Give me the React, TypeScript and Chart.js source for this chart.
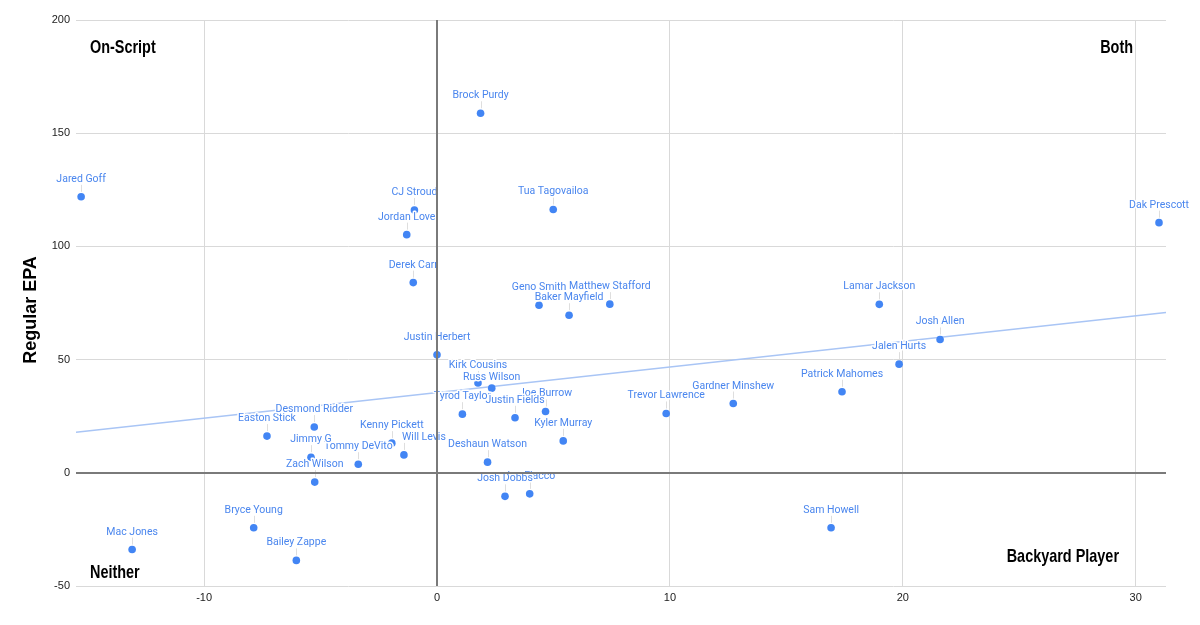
import React, { useEffect, useRef } from 'react';
import { Chart, registerables } from 'chart.js';

Chart.register(...registerables);

// ---- Data ----
const players = [
  'Jared Goff', 'CJ Stroud', 'Jordan Love', 'Derek Carr', 'Brock Purdy',
  'Tua Tagovailoa', 'Dak Prescott', 'Geno Smith', 'Matthew Stafford', 'Baker Mayfield',
  'Lamar Jackson', 'Josh Allen', 'Jalen Hurts', 'Patrick Mahomes', 'Gardner Minshew',
  'Trevor Lawrence', 'Sam Howell', 'Justin Herbert', 'Kirk Cousins', 'Russ Wilson',
  'Tyrod Taylor', 'Joe Burrow', 'Justin Fields', 'Kyler Murray', 'Deshaun Watson',
  'Joe Flacco', 'Josh Dobbs', 'Easton Stick', 'Desmond Ridder', 'Tommy DeVito',
  'Jimmy G', 'Zach Wilson', 'Kenny Pickett', 'Will Levis', 'Bryce Young',
  'Bailey Zappe', 'Mac Jones',
];

const backyardEpa = [
  -15.28, -0.97, -1.30, -1.02, 1.87,
  4.99, 31.0, 4.38, 7.42, 5.67,
  18.99, 21.6, 19.84, 17.39, 12.72,
  9.84, 16.92, 0.0, 1.76, 2.35,
  1.09, 4.66, 3.35, 5.42, 2.17,
  3.98, 2.92, -7.30, -5.27, -3.38,
  -5.41, -5.25, -1.94, -1.42, -7.87,
  -6.04, -13.09,
];

const regularEpa = [
  121.9, 116.1, 105.2, 84.0, 158.8,
  116.3, 110.5, 74.0, 74.5, 69.6,
  74.4, 58.9, 48.0, 35.8, 30.6,
  26.2, -24.3, 52.1, 39.7, 37.4,
  25.9, 27.1, 24.3, 14.1, 4.7,
  -9.3, -10.4, 16.2, 20.2, 3.8,
  6.9, -4.1, 13.1, 7.9, -24.3,
  -38.7, -33.9,
];

const xAxisMin = -15.5;
const xAxisMax = 31.3;
const xAxisStep = 10;
const yAxisMin = -50;
const yAxisMax = 200;
const yAxisStep = 50;

const yAxisTitle = 'Regular EPA';
const quadrantTopLeft = 'On-Script';
const quadrantTopRight = 'Both';
const quadrantBottomLeft = 'Neither';
const quadrantBottomRight = 'Backyard Player';

// label nudges to mimic collision avoidance (style only)
const labelNudges: Record<string, [number, number]> = {
  'Will Levis': [20, 0],
  'Russ Wilson': [0, 7],
};

const BLUE = '#4285f4';
const LABEL_BLUE = '#4a86ee';
const ZERO_LINE = '#7a7a7a';

function linearFit(xs: number[], ys: number[]) {
  const n = xs.length;
  let sx = 0, sy = 0;
  for (let i = 0; i < n; i++) { sx += xs[i]; sy += ys[i]; }
  const mx = sx / n, my = sy / n;
  let sxy = 0, sxx = 0;
  for (let i = 0; i < n; i++) {
    sxy += (xs[i] - mx) * (ys[i] - my);
    sxx += (xs[i] - mx) * (xs[i] - mx);
  }
  const slope = sxy / sxx;
  return { slope, intercept: my - slope * mx };
}

const pointLabelPlugin = {
  id: 'pointLabels',
  afterDatasetsDraw(chart: any) {
    const ctx = chart.ctx as CanvasRenderingContext2D;
    const meta = chart.getDatasetMeta(0);
    ctx.save();
    ctx.font = '10.5px Roboto, Arial, sans-serif';
    ctx.textAlign = 'center';
    ctx.textBaseline = 'alphabetic';
    ctx.lineJoin = 'round';
    meta.data.forEach((pt: any, i: number) => {
      const name = players[i];
      const nudge = labelNudges[name] || [0, 0];
      const px = pt.x;
      const py = pt.y;
      const lx = Math.round(px) + 0.5;
      ctx.strokeStyle = '#dedede';
      ctx.lineWidth = 1;
      ctx.beginPath();
      ctx.moveTo(lx, py - 5);
      ctx.lineTo(lx, py - 12 + nudge[1]);
      ctx.stroke();
      const tx = px + nudge[0];
      const ty = py - 15 + nudge[1];
      ctx.strokeStyle = '#ffffff';
      ctx.lineWidth = 3;
      ctx.strokeText(name, tx, ty);
      ctx.fillStyle = LABEL_BLUE;
      ctx.fillText(name, tx, ty);
    });

    // baselines (zero lines) drawn on top, as in the reference
    const a = chart.chartArea;
    const x0 = Math.round(chart.scales.x.getPixelForValue(0));
    const y0 = Math.round(chart.scales.y.getPixelForValue(0));
    ctx.strokeStyle = ZERO_LINE;
    ctx.lineWidth = 2;
    ctx.beginPath();
    ctx.moveTo(x0, a.top);
    ctx.lineTo(x0, a.bottom);
    ctx.moveTo(a.left, y0);
    ctx.lineTo(a.right, y0);
    ctx.stroke();
    ctx.restore();
  },
};

function condensedText(ctx: CanvasRenderingContext2D, text: string, x: number, y: number, align: 'left' | 'right') {
  const sx = 0.78;
  ctx.save();
  ctx.translate(x, y);
  ctx.scale(sx, 1);
  ctx.textAlign = align;
  ctx.fillText(text, 0, 0);
  ctx.restore();
}

const annotationPlugin = {
  id: 'quadrantText',
  afterDraw(chart: any) {
    const ctx = chart.ctx as CanvasRenderingContext2D;
    const a = chart.chartArea;
    ctx.save();
    ctx.fillStyle = '#000';
    ctx.font = 'bold 18.5px "Liberation Sans", Arial, sans-serif';
    ctx.textBaseline = 'alphabetic';
    condensedText(ctx, quadrantTopLeft, a.left + 14, a.top + 33, 'left');
    condensedText(ctx, quadrantBottomLeft, a.left + 14, a.bottom - 8, 'left');
    condensedText(ctx, quadrantTopRight, a.right - 33, a.top + 33, 'right');
    condensedText(ctx, quadrantBottomRight, a.right - 47, a.bottom - 24, 'right');

    // y axis title
    ctx.font = 'bold 18px "Liberation Sans", Arial, sans-serif';
    ctx.textAlign = 'center';
    ctx.textBaseline = 'middle';
    ctx.translate(31, (a.top + a.bottom) / 2 + 7);
    ctx.rotate(-Math.PI / 2);
    ctx.fillText(yAxisTitle, 0, 0);
    ctx.restore();
  },
};

export default function App() {
  const canvasRef = useRef<HTMLCanvasElement | null>(null);

  useEffect(() => {
    if (!canvasRef.current) return;
    const fit = linearFit(backyardEpa, regularEpa);
    const points = backyardEpa.map((x, i) => ({ x, y: regularEpa[i] }));
    const trend = [
      { x: xAxisMin, y: fit.intercept + fit.slope * xAxisMin },
      { x: xAxisMax, y: fit.intercept + fit.slope * xAxisMax },
    ];

    const gridColor = (c: any) => (c.tick && c.tick.value === 0 ? ZERO_LINE : '#d9d9d9');
    const gridWidth = (c: any) => (c.tick && c.tick.value === 0 ? 2 : 1);
    const tickFont = { family: 'Arial, "Liberation Sans", sans-serif', size: 11 };

    const chart = new Chart(canvasRef.current, {
      type: 'scatter',
      data: {
        datasets: [
          {
            label: 'Players',
            data: points,
            backgroundColor: BLUE,
            borderWidth: 0,
            pointRadius: 3.8,
            pointHoverRadius: 3.8,
          },
          {
            type: 'line',
            label: 'Trendline',
            data: trend,
            borderColor: '#a9c5f5',
            borderWidth: 1.5,
            pointRadius: 0,
            fill: false,
          } as any,
        ],
      },
      options: {
        responsive: false,
        animation: false,
        events: [],
        layout: { padding: { top: 20, right: 34, left: 0, bottom: 0 } },
        plugins: {
          legend: { display: false },
          tooltip: { enabled: false },
        },
        scales: {
          x: {
            type: 'linear',
            min: xAxisMin,
            max: xAxisMax,
            border: { display: false },
            grid: { color: gridColor, lineWidth: gridWidth, drawTicks: false },
            ticks: {
              stepSize: xAxisStep,
              includeBounds: false,
              padding: 5,
              color: '#222',
              font: tickFont,
              maxRotation: 0,
            },
            afterFit: (s: any) => { s.height = 39; },
          },
          y: {
            type: 'linear',
            min: yAxisMin,
            max: yAxisMax,
            border: { display: false },
            grid: { color: gridColor, lineWidth: gridWidth, drawTicks: false },
            ticks: {
              stepSize: yAxisStep,
              padding: 6,
              color: '#222',
              font: tickFont,
            },
            afterFit: (s: any) => { s.width = 76; },
          },
        },
      },
      plugins: [pointLabelPlugin, annotationPlugin],
    });

    return () => chart.destroy();
  }, []);

  return (
    <div style={{ position: 'fixed', left: 0, top: 0, width: 1200, height: 625, background: '#fff' }}>
      <canvas ref={canvasRef} width={1200} height={625} />
    </div>
  );
}
